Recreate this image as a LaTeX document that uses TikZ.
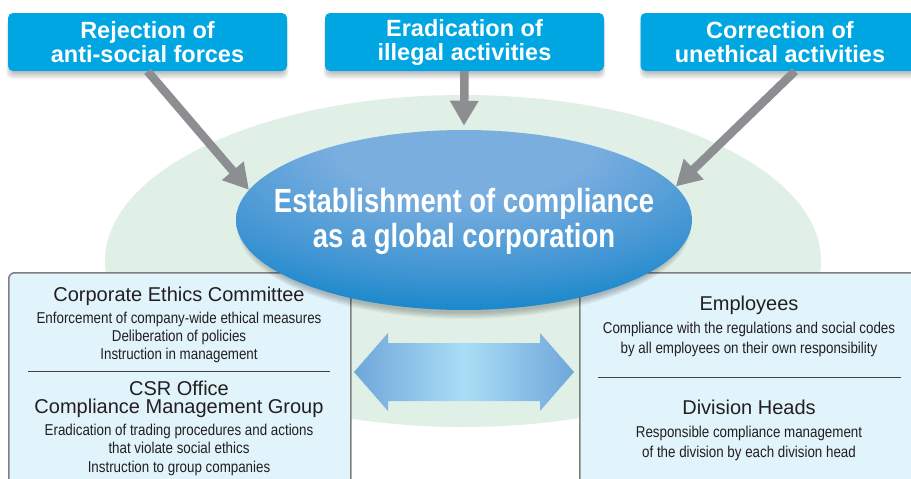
\documentclass[tikz,border=0pt]{standalone}
\usepackage{fontspec}
\setmainfont{Liberation Sans}
\newfontfamily\condfont[FakeStretch=0.85]{Liberation Sans}
\newfontfamily\titlefont[FakeStretch=0.82]{Liberation Sans}
\usetikzlibrary{shapes.geometric,arrows.meta,calc}
\definecolor{topblue}{HTML}{00A6E2}
\definecolor{greenbg}{HTML}{E1F0E7}
\definecolor{arrowgray}{HTML}{8C8E91}
\definecolor{boxfill}{HTML}{E1F3FB}
\definecolor{boxline}{HTML}{7F7F7F}
\definecolor{txt}{HTML}{231F20}
\definecolor{ellLight}{HTML}{7AAEDF}
\definecolor{ellMid}{HTML}{3B93D2}
\definecolor{ellDark}{HTML}{0080C6}
\definecolor{darrowDark}{HTML}{6FA6DA}
\definecolor{darrowLight}{HTML}{A9DEF6}
\pgfdeclareradialshading{ellshade}{\pgfpoint{0bp}{24bp}}{color(0bp)=(ellLight); color(14bp)=(ellLight); color(32bp)=(ellMid); color(44bp)=(ellDark); color(90bp)=(ellDark)}
\begin{document}
\begin{tikzpicture}[x=1pt,y=-1pt,
  topbox/.style={fill=topblue, rounded corners=5pt, minimum width=279pt, minimum height=58pt,
    text=white, font=\fontsize{23.5}{24}\selectfont\bfseries, align=center, inner sep=0pt},
  lowbox/.style={draw=boxline, line width=1.5pt, fill=boxfill, rounded corners=6pt, inner sep=0pt, anchor=north west},
  ttl/.style={anchor=base, text=txt, font=\fontsize{20}{22}\selectfont, inner sep=0pt},
  ttltwo/.style={anchor=north, text=txt, font=\fontsize{20}{18}\selectfont, align=center, inner sep=0pt},
  body/.style={anchor=base, text=txt, font=\condfont\fontsize{15.7}{18}\selectfont, inner sep=0pt},
  etitle/.style={anchor=base, text=white, font=\titlefont\bfseries\fontsize{33.5}{35}\selectfont, inner sep=0pt},
  divider/.style={draw=txt!85, line width=0.9pt},
  shadowlayer/.style={fill=black, opacity=0.045},
  grayarrow/.style={draw=arrowgray, line width=8.5pt, -{Triangle[length=25pt,width=27pt]}}
]
\clip (0,0) rectangle (911,479);
\fill[white] (0,0) rectangle (911,479);
% green background
\fill[greenbg] (463,261) ellipse [x radius=358, y radius=166];
% lower boxes
\node[lowbox, minimum width=342pt, minimum height=230pt] (lb) at (8,272) {};
\node[lowbox, minimum width=345pt, minimum height=230pt] (rb) at (579,272) {};
\draw[divider] (28,371) -- (330,371);
\draw[divider] (598,377) -- (901,377);
% left texts
\node[ttl] (t1) at (179,301) {Corporate Ethics Committee};
\node[body] (t1a) at (179,323) {Enforcement of company-wide ethical measures};
\node[body] (t1b) at (179,341) {Deliberation of policies};
\node[body] (t1c) at (179,359) {Instruction in management};
\node[ttltwo] (t2) at (179,380.5) {CSR Office\\Compliance Management Group};
\node[body] (t2a) at (179,435) {Eradication of trading procedures and actions};
\node[body] (t2b) at (179,453) {that violate social ethics};
\node[body] (t2c) at (179,472) {Instruction to group companies};
% right texts
\node[ttl] (e1) at (749,310) {Employees};
\node[body] (e1a) at (749,333) {Compliance with the regulations and social codes};
\node[body] (e1b) at (749,353) {by all employees on their own responsibility};
\node[ttl] (d1) at (749,414) {Division Heads};
\node[body] (d1a) at (749,437) {Responsible compliance management};
\node[body] (d1b) at (749,457) {of the division by each division head};
% double arrow
\shade[left color=darrowDark, right color=darrowDark, middle color=darrowLight]
  (354,372) -- (388,333) -- (388,343) -- (540,343) -- (540,333) -- (574,372)
  -- (540,411) -- (540,401) -- (388,401) -- (388,411) -- cycle;
% shadow of central ellipse
\foreach \k in {0,...,5}
  \fill[shadowlayer] (464,227) ellipse [x radius={221+1.2*\k}, y radius={86+1.2*\k}];
% central ellipse
\node[ellipse, minimum width=456pt, minimum height=180pt, inner sep=0pt, shade, shading=ellshade] (ell) at (464,220) {};
\node[etitle] (et1) at (464,212) {Establishment of compliance};
\node[etitle] (et2) at (464,247) {as a global corporation};
% shadows of top boxes
\foreach \xa/\xb in {8/287, 325/604, 641/920}
  \foreach \k in {0,...,5}
    \fill[shadowlayer, rounded corners=6pt] ({\xa+2-0.7*\k},18) rectangle ({\xb-2+0.7*\k},{73+1.2*\k});
% top boxes
\node[topbox] (b1) at (147.5,42) {Rejection of\\anti-social forces};
\node[topbox] (b2) at (464.5,42) {Eradication of\\illegal activities};
\node[topbox] (b3) at (780,42) {Correction of\\unethical activities};
% arrows
\draw[grayarrow] (b1.south) -- (ell.172.8);
\draw[grayarrow] (b2.south) -- ($(ell.north)+(0,-4)$);
\draw[grayarrow] ($(b3.south)+(15,0)$) -- (ell.9);
\end{tikzpicture}
\end{document}
